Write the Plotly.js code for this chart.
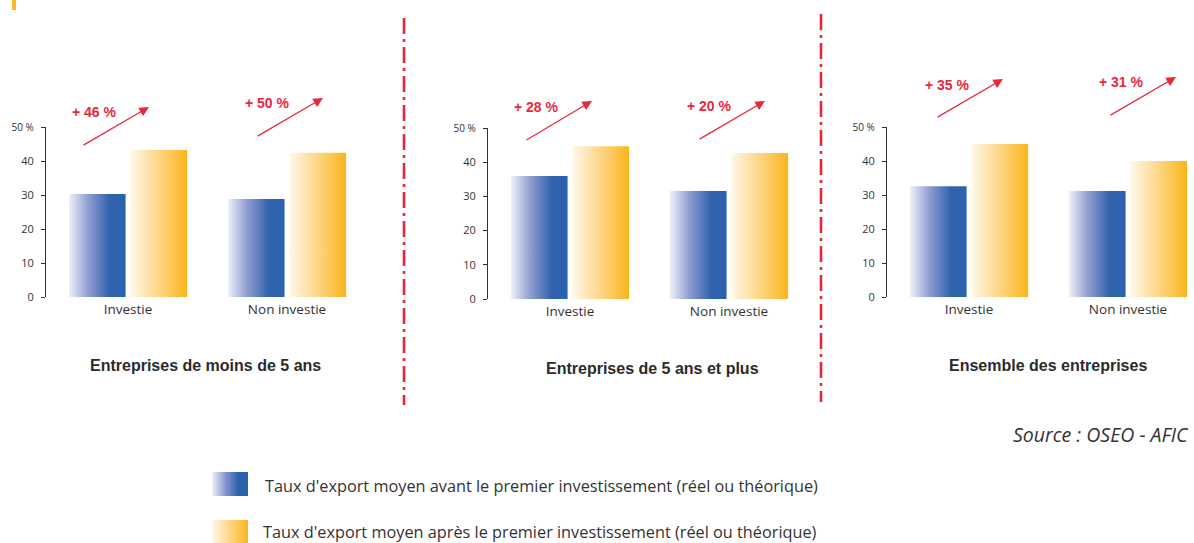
<!DOCTYPE html>
<html>
<head>
<meta charset="utf-8">
<script src="https://cdn.plot.ly/plotly-3.0.1.min.js"></script>
<style>
html,body{margin:0;padding:0;background:#fff;}
#chart{width:1194px;height:543px;}
</style>
</head>
<body>
<div id="chart"></div>
<script>
// ---- Data ----
const categories = ["Investie", "Non investie"];
const panelTitles = ["Entreprises de moins de 5 ans", "Entreprises de 5 ans et plus", "Ensemble des entreprises"];
const beforeP1 = [30.3, 28.8];
const afterP1  = [43.2, 42.4];
const beforeP2 = [36.0, 31.6];
const afterP2  = [44.7, 42.7];
const beforeP3 = [32.6, 31.2];
const afterP3  = [45.0, 40.0];
const growthLabels = ["+ 46 %", "+ 50 %", "+ 28 %", "+ 20 %", "+ 35 %", "+ 31 %"];
const tickVals = [0, 10, 20, 30, 40, 50];
const tickText = ["0", "10", "20", "30", "40", '<span style="font-size:10px">50 %</span>'];
const legendBefore = "Taux d'export moyen avant le premier investissement (réel ou théorique)";
const legendAfter  = "Taux d'export moyen après le premier investissement (réel ou théorique)";
const sourceText = "Source : OSEO - AFIC";

// ---- Style ----
const W = 1194, H = 543;
const BLUE = "#2962ae", ORANGE = "#fbb51a", RED = "#e8273b", TXT = "#333333";
const px = x => x / W;
const py = y => 1 - y / H;

const beforeSets = [beforeP1, beforeP2, beforeP3];
const afterSets = [afterP1, afterP2, afterP3];
const traces = [];
for (let i = 0; i < 3; i++) {
  const s = i === 0 ? "" : String(i + 1);
  traces.push({type: "bar", x: categories, y: beforeSets[i], xaxis: "x" + s, yaxis: "y" + s,
    marker: {color: BLUE, line: {width: 0}}, hoverinfo: "none"});
  traces.push({type: "bar", x: categories, y: afterSets[i], xaxis: "x" + s, yaxis: "y" + s,
    marker: {color: ORANGE, line: {width: 0}}, hoverinfo: "none"});
}

const xDomains = [[px(46), px(353)], [px(488), px(795)], [px(887), px(1194)]];
const yDomains = [[py(297), py(127)], [py(299), py(128)], [py(297), py(127)]];

const layout = {
  width: W, height: H,
  margin: {l: 0, r: 0, t: 0, b: 0},
  paper_bgcolor: "#ffffff", plot_bgcolor: "rgba(0,0,0,0)",
  showlegend: false,
  barmode: "group", bargap: 0.226, bargroupgap: 0.08,
  font: {family: "Open Sans, sans-serif", color: TXT},
  annotations: [], shapes: []
};
for (let i = 0; i < 3; i++) {
  const s = i === 0 ? "" : String(i + 1);
  layout["xaxis" + s] = {
    domain: xDomains[i], anchor: "y" + s, type: "category",
    range: [-0.516, 1.415], fixedrange: true,
    showline: false, ticks: "", showgrid: false, zeroline: false,
    tickfont: {family: "Open Sans, sans-serif", size: 13.5, color: TXT},
    ticklabelstandoff: 2
  };
  layout["yaxis" + s] = {
    domain: yDomains[i], anchor: "x" + s, range: [0, 50], fixedrange: true,
    showline: true, linecolor: TXT, linewidth: 1,
    ticks: "outside", ticklen: 4, tickcolor: TXT, tickwidth: 1,
    tickvals: tickVals, ticktext: tickText,
    showgrid: false, zeroline: false,
    tickfont: {family: "Open Sans, sans-serif", size: 11, color: TXT},
    ticklabelstandoff: 5
  };
}

// Panel titles
const titlePos = [[205, 365], [652, 368], [1048, 365]];
panelTitles.forEach((t, i) => {
  layout.annotations.push({text: "<b>" + t + "</b>", xref: "paper", yref: "paper",
    x: px(titlePos[i][0]), y: py(titlePos[i][1]), xanchor: "center", yanchor: "middle",
    showarrow: false, font: {family: "Liberation Sans, Arial, sans-serif", size: 16, color: "#2b2b2b"}});
});

// Growth labels and arrows
const labelPos = [[94, 112], [267, 103], [536, 107], [710, 106], [947, 85], [1121, 82]];
const arrowTail = [[82, 146], [256, 137], [525, 141], [698, 140], [936, 118], [1109, 116]];
const arrowHead = [[149, 107], [323, 98], [592, 101], [765, 101], [1003, 79], [1176, 77]];
growthLabels.forEach((g, i) => {
  layout.annotations.push({text: "<b>" + g + "</b>", xref: "paper", yref: "paper",
    x: px(labelPos[i][0]), y: py(labelPos[i][1]), xanchor: "center", yanchor: "middle",
    showarrow: false, font: {family: "Liberation Sans, Arial, sans-serif", size: 14, color: RED}});
  layout.annotations.push({text: "", xref: "paper", yref: "paper",
    x: px(arrowHead[i][0]), y: py(arrowHead[i][1]),
    ax: arrowTail[i][0] - arrowHead[i][0], ay: arrowTail[i][1] - arrowHead[i][1],
    showarrow: true, arrowhead: 2, arrowsize: 1.6, arrowwidth: 1.2, arrowcolor: RED, standoff: 0});
});

// Source
layout.annotations.push({text: "<i>" + sourceText + "</i>", xref: "paper", yref: "paper",
  x: px(1191), y: py(434), xanchor: "right", yanchor: "middle", showarrow: false,
  font: {family: "Open Sans, sans-serif", size: 19.5, color: TXT}});

// Legend texts
layout.annotations.push({text: legendBefore, xref: "paper", yref: "paper",
  x: px(263), y: py(486), xanchor: "left", yanchor: "middle", showarrow: false,
  font: {family: "Open Sans, sans-serif", size: 16.3, color: TXT}});
layout.annotations.push({text: legendAfter, xref: "paper", yref: "paper",
  x: px(261), y: py(532), xanchor: "left", yanchor: "middle", showarrow: false,
  font: {family: "Open Sans, sans-serif", size: 16.3, color: TXT}});

// Shapes: dividers, legend swatches, corner mark
layout.shapes.push({type: "line", xref: "paper", yref: "paper", x0: px(404), x1: px(404), y0: py(18), y1: py(405),
  line: {color: RED, width: 2.6, dash: "16px,5px,3px,5px"}});
layout.shapes.push({type: "line", xref: "paper", yref: "paper", x0: px(821), x1: px(821), y0: py(14), y1: py(402),
  line: {color: RED, width: 2.6, dash: "16px,5px,3px,5px"}});
layout.shapes.push({type: "rect", xref: "paper", yref: "paper", x0: px(212), x1: px(248), y0: py(496), y1: py(472),
  fillcolor: BLUE, line: {width: 0}});
layout.shapes.push({type: "rect", xref: "paper", yref: "paper", x0: px(212), x1: px(248), y0: py(545), y1: py(520),
  fillcolor: ORANGE, line: {width: 0}});
layout.shapes.push({type: "rect", xref: "paper", yref: "paper", x0: px(12), x1: px(16), y0: py(10), y1: py(-2),
  fillcolor: "#fbb820", line: {width: 0}});

const gd = document.getElementById("chart");
Plotly.newPlot(gd, traces, layout, {staticPlot: true, displayModeBar: false}).then(() => {
  const NS = "http://www.w3.org/2000/svg";
  const svg = gd.querySelector("svg.main-svg");
  let defs = svg.querySelector("defs");
  if (!defs) { defs = document.createElementNS(NS, "defs"); svg.insertBefore(defs, svg.firstChild); }
  function grad(id, stops) {
    const g = document.createElementNS(NS, "linearGradient");
    g.setAttribute("id", id);
    g.setAttribute("x1", "0"); g.setAttribute("y1", "0");
    g.setAttribute("x2", "1"); g.setAttribute("y2", "0");
    stops.forEach(([o, c]) => {
      const s = document.createElementNS(NS, "stop");
      s.setAttribute("offset", o); s.setAttribute("stop-color", c);
      g.appendChild(s);
    });
    defs.appendChild(g);
  }
  grad("gBlue", [[0, "#eef0f9"], [0.35, "#8d9bd0"], [0.72, "#3163ad"], [1, "#2962ae"]]);
  grad("gOrange", [[0, "#fff8ea"], [0.5, "#fdd585"], [1, "#fbb51a"]]);
  const blueRGB = "rgb(41, 98, 174)", orangeRGB = "rgb(251, 181, 26)";
  gd.querySelectorAll("path").forEach(p => {
    const f = p.style.fill;
    if (f === blueRGB) p.style.fill = "url(#gBlue)";
    else if (f === orangeRGB) p.style.fill = "url(#gOrange)";
  });
});
</script>
</body>
</html>
